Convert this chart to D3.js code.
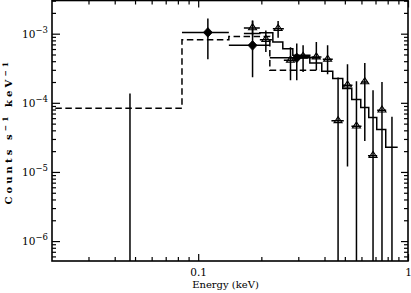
<!DOCTYPE html>
<html><head><meta charset="utf-8">
<script src="https://cdn.jsdelivr.net/npm/d3@7"></script>
<style>
html,body{margin:0;padding:0;background:#fff;}
svg{display:block;}
</style></head>
<body>
<svg id="c" width="411" height="293"></svg>
<script>
// ---------- data ----------
const xDomain = [0.0201, 1];
const yDomain = [5.15e-7, 3.02e-3];
const yMajorTicks = [1e-6, 1e-5, 1e-4, 1e-3];
const yTickExp = ["−6", "−5", "−4", "−3"];
const xMajorTicks = [0.1, 1];
const xTickLabels = ["0.1", "1"];

// dataset 1 (filled diamonds): bin centre, bin edges, flux, flux error range
const diaE   = [0.0473, 0.1112, 0.1816, 0.2950];
const diaElo = [0.0201, 0.0837, 0.1400, 0.2195];
const diaEhi = [0.0837, 0.1400, 0.2195, 0.3800];
const diaF   = [3.0e-7, 1.044e-3, 6.78e-4, 4.47e-4];
const diaFlo = [1e-8, 4.25e-4, 2.34e-4, 2.12e-4];
const diaFhi = [1.36e-4, 1.662e-3, 1.555e-3, 7.24e-4];

// model for dataset 1 (dashed histogram)
const modAEdges = [0.015, 0.0837, 0.1400, 0.2195, 0.3800];
const modAVals  = [8.37e-5, 8.19e-4, 9.14e-4, 2.96e-4];

// dataset 2 (open triangles)
const triE   = [0.1816, 0.2101, 0.2404, 0.2754, 0.3162, 0.3657, 0.4138, 0.4642, 0.5148, 0.568, 0.6224, 0.6813, 0.7516, 0.8386];
const triElo = [0.1651, 0.1967, 0.2269, 0.2560, 0.2985, 0.3465, 0.3925, 0.4316, 0.4869, 0.5376, 0.600, 0.6445, 0.7129, 0.7832];
const triEhi = [0.1967, 0.2245, 0.2560, 0.2985, 0.3404, 0.3868, 0.4379, 0.4942, 0.5436, 0.600, 0.6445, 0.7129, 0.787, 0.893];
const triF   = [1.213e-3, 8.19e-4, 1.181e-3, 4.12e-4, 4.70e-4, 4.59e-4, 4.25e-4, 5.48e-5, 1.80e-4, 4.59e-5, 2.00e-4, 1.72e-5, 7.82e-5, 3.0e-7];
const triFlo = [9.45e-4, 5.42e-4, 8.76e-4, 2.12e-4, 2.79e-4, 2.96e-4, 2.59e-4, 1e-8, 1.195e-5, 1e-8, 2.81e-5, 1e-8, 1e-8, 1e-8];
const triFhi = [1.540e-3, 1.116e-3, 1.520e-3, 6.34e-4, 6.78e-4, 7.57e-4, 6.78e-4, 2.32e-4, 3.61e-4, 2.05e-4, 3.77e-4, 1.52e-4, 2.00e-4, 6.27e-5];

// model for dataset 2 (solid histogram)
const modBEdges = [0.1651, 0.1967, 0.2269, 0.2531, 0.2825, 0.3404, 0.3882, 0.4379, 0.4887, 0.5395, 0.5954, 0.650, 0.7096, 0.7832, 0.893];
const modBVals  = [1.010e-3, 1.034e-3, 7.57e-4, 6.07e-4, 4.86e-4, 3.77e-4, 2.86e-4, 2.24e-4, 1.61e-4, 1.12e-4, 8.56e-5, 6.14e-5, 4.10e-5, 2.28e-5];

// ---------- layout ----------
const L = 52, R = 408, T = 0.5, B = 261;
const svg = d3.select("#c");
const x = d3.scaleLog().domain(xDomain).range([L, R]);
const y = d3.scaleLog().domain(yDomain).range([B, T]);
const FONT = "'DejaVu Serif', serif";
const SW = 1.5;

svg.append("defs").append("clipPath").attr("id", "clip")
  .append("rect").attr("x", L).attr("y", T).attr("width", R - L).attr("height", B - T);

const plot = svg.append("g").attr("clip-path", "url(#clip)");

function histPts(edges, vals) {
  const p = vals.map((v, i) => [edges[i], v]);
  p.push([edges[edges.length - 1], vals[vals.length - 1]]);
  return p;
}
const stepLine = d3.line().x(d => x(d[0])).y(d => y(d[1])).curve(d3.curveStepAfter);

plot.append("path").attr("d", stepLine(histPts(modAEdges, modAVals)))
  .attr("fill", "none").attr("stroke", "#000").attr("stroke-width", SW)
  .attr("stroke-dasharray", "6.5,3.5");
plot.append("path").attr("d", stepLine(histPts(modBEdges, modBVals)))
  .attr("fill", "none").attr("stroke", "#000").attr("stroke-width", SW);

function errBars(E, Elo, Ehi, F, Flo, Fhi) {
  const g = plot.append("g").attr("stroke", "#000").attr("stroke-width", SW);
  E.forEach((e, i) => {
    g.append("line").attr("x1", x(Elo[i])).attr("x2", x(Ehi[i])).attr("y1", y(F[i])).attr("y2", y(F[i]));
    g.append("line").attr("x1", x(e)).attr("x2", x(e)).attr("y1", y(Flo[i])).attr("y2", y(Fhi[i]));
  });
}
errBars(triE, triElo, triEhi, triF, triFlo, triFhi);
errBars(diaE, diaElo, diaEhi, diaF, diaFlo, diaFhi);

// triangles (open)
plot.append("g").selectAll("path").data(triE).join("path")
  .attr("d", "M-4,1.8L4,1.8L0,-4.2Z")
  .attr("transform", (d, i) => `translate(${x(d)},${y(triF[i])})`)
  .attr("fill", "none").attr("stroke", "#000").attr("stroke-width", 1.1);

// diamonds (filled)
plot.append("g").selectAll("path").data(diaE).join("path")
  .attr("d", "M0,-4.8L4.5,0L0,4.8L-4.5,0Z")
  .attr("transform", (d, i) => `translate(${x(d)},${y(diaF[i])})`)
  .attr("fill", "#000").attr("stroke", "#000").attr("stroke-width", 0.8);

// ---------- axes ----------
const xMinor = x.ticks().filter(v => !xMajorTicks.some(m => Math.abs(m - v) < 1e-9));
const yMinor = y.ticks().filter(v => !yMajorTicks.some(m => Math.abs(m / v - 1) < 1e-6));

function styleAxis(g) {
  g.select(".domain").remove();
  g.selectAll(".tick line").attr("stroke", "#000").attr("stroke-width", 1.2);
}
// bottom
svg.append("g").attr("transform", `translate(0,${B})`)
  .call(d3.axisBottom(x).tickValues(xMajorTicks).tickSize(-7).tickPadding(8)
    .tickFormat((d, i) => xTickLabels[i]))
  .call(styleAxis)
  .call(g => g.selectAll("text").attr("font-family", FONT).attr("font-size", 10.5).attr("fill", "#000"));
svg.append("g").attr("transform", `translate(0,${B})`)
  .call(d3.axisBottom(x).tickValues(xMinor).tickSize(-4).tickFormat(""))
  .call(styleAxis);
// top
svg.append("g").attr("transform", `translate(0,${T})`)
  .call(d3.axisTop(x).tickValues(xMajorTicks).tickSize(-7).tickFormat(""))
  .call(styleAxis);
svg.append("g").attr("transform", `translate(0,${T})`)
  .call(d3.axisTop(x).tickValues(xMinor).tickSize(-4).tickFormat(""))
  .call(styleAxis);
// left
svg.append("g").attr("transform", `translate(${L},0)`)
  .call(d3.axisLeft(y).tickValues(yMajorTicks).tickSize(-8).tickPadding(4).tickFormat(""))
  .call(styleAxis)
  .call(g => g.selectAll(".tick text").each(function(d, i) {
      const t = d3.select(this).attr("font-family", FONT).attr("font-size", 10.5).attr("fill", "#000");
      t.append("tspan").text("10");
      t.append("tspan").attr("dy", "-5").attr("font-size", 8.5).text(yTickExp[i]);
    }));
svg.append("g").attr("transform", `translate(${L},0)`)
  .call(d3.axisLeft(y).tickValues(yMinor).tickSize(-4).tickFormat(""))
  .call(styleAxis);
// right
svg.append("g").attr("transform", `translate(${R},0)`)
  .call(d3.axisRight(y).tickValues(yMajorTicks).tickSize(-7).tickFormat(""))
  .call(styleAxis);
svg.append("g").attr("transform", `translate(${R},0)`)
  .call(d3.axisRight(y).tickValues(yMinor).tickSize(-4).tickFormat(""))
  .call(styleAxis);

// frame
svg.append("rect").attr("x", L).attr("y", T).attr("width", R - L).attr("height", B - T)
  .attr("fill", "none").attr("stroke", "#000").attr("stroke-width", 1.6);

// axis titles
svg.append("text").attr("x", 225.5).attr("y", 288).attr("text-anchor", "middle")
  .attr("font-family", FONT).attr("font-size", 10).text("Energy (keV)");

const yl = svg.append("text").attr("transform", `translate(11.5,${(T + B) / 2 + 1}) rotate(-90)`)
  .attr("text-anchor", "middle").attr("font-family", FONT).attr("font-size", 10)
  .attr("font-weight", "bold").attr("letter-spacing", 3.1);
yl.append("tspan").text("Counts s");
yl.append("tspan").attr("dy", -3.5).attr("font-size", 7.5).text("−1");
yl.append("tspan").attr("dy", 3.5).text(" keV");
yl.append("tspan").attr("dy", -3.5).attr("font-size", 7.5).text("−1");
</script>
</body></html>
